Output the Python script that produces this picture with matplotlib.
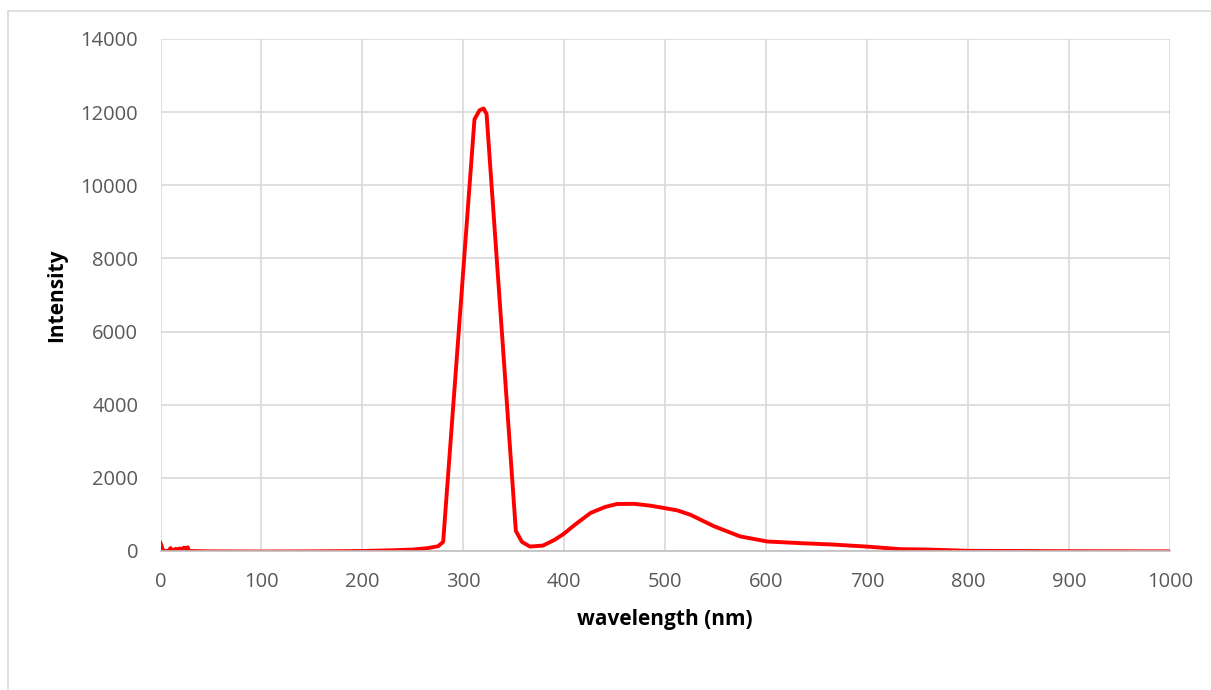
import matplotlib
matplotlib.use("Agg")
import matplotlib.pyplot as plt
from matplotlib.patches import Rectangle

wavelength = [0, 1, 2, 3, 5, 8, 10, 11, 13, 15, 17, 19, 21, 23, 25, 27, 28, 30,
              50, 100, 150, 200, 230, 250, 265, 275, 280,
              311, 316, 320, 323, 352, 358, 366, 379, 390, 399, 412, 426, 440,
              452, 469, 485, 498, 512, 525, 548, 574, 601, 634, 667, 700, 733,
              760, 800, 850, 900, 1000]
intensity = [220, 150, 40, 10, 0, 5, 80, 20, 10, 60, 40, 70, 40, 90, 60, 100, 10, 0,
             -10, -15, -10, 0, 20, 40, 80, 130, 250,
             11800, 12050, 12100, 11950, 550, 250, 120, 150, 300, 460, 750, 1040, 1200,
             1285, 1290, 1240, 1180, 1110, 990, 680, 400, 260, 215, 175, 120, 50,
             40, 5, 0, -5, -10]

xticks = [0, 100, 200, 300, 400, 500, 600, 700, 800, 900, 1000]
yticks = [0, 2000, 4000, 6000, 8000, 10000, 12000, 14000]

plt.rcParams['font.family'] = ['Open Sans', 'DejaVu Sans']

fig = plt.figure(figsize=(12.11, 6.90), dpi=100)
fig.patches.append(Rectangle((8 / 1211, -0.1), 1.2, (690 - 11) / 690 + 0.1,
                             transform=fig.transFigure, fill=False,
                             edgecolor='#d9d9d9', linewidth=1.2))
ax = fig.add_axes([160.5 / 1211, (690 - 551) / 690, (1170 - 160.5) / 1211, (551 - 39) / 690])

ax.plot(wavelength, intensity, color='#ff0000', linewidth=2.8, solid_joinstyle='round')

ax.set_xlim(0, 1000)
ax.set_ylim(0, 14000)
ax.set_xticks(xticks)
ax.set_yticks(yticks)
ax.set_xticklabels([str(t) for t in xticks])
ax.set_yticklabels([str(t) for t in yticks])
ax.grid(True, color='#d9d9d9', linewidth=1.2)
ax.set_axisbelow(True)
for s in ['top', 'right', 'left']:
    ax.spines[s].set_visible(False)
ax.spines['bottom'].set_color('#bfbfbf')
ax.spines['bottom'].set_linewidth(1.2)
ax.tick_params(axis='both', length=0, labelsize=14.5, labelcolor='#595959')
ax.tick_params(axis='y', pad=16)
ax.tick_params(axis='x', pad=15)

ax.set_xlabel('wavelength (nm)', fontsize=15, fontweight='bold', color='black', labelpad=12)
ax.set_ylabel('Intensity', fontsize=15, fontweight='bold', color='black', labelpad=10)

fig.savefig('out.png', dpi=100)
